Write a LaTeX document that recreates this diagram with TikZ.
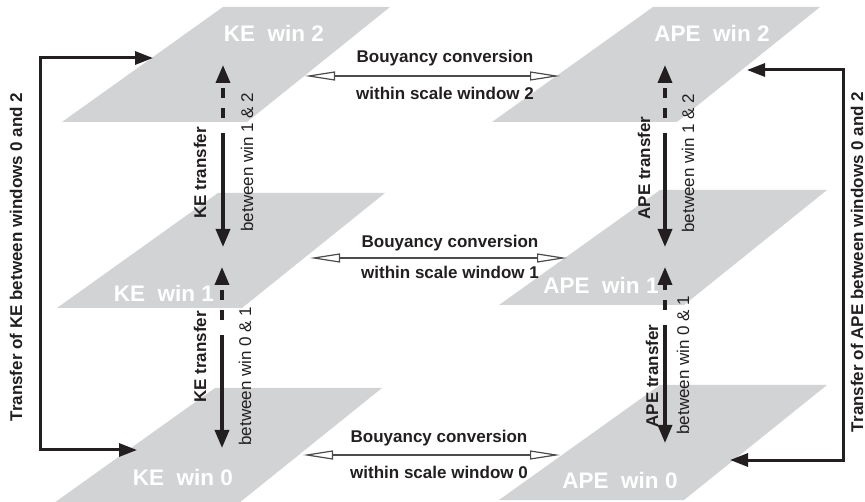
\documentclass[tikz,border=0pt]{standalone}
\usepackage{fontspec}
\setmainfont{Liberation Sans}
\usetikzlibrary{arrows.meta}
\definecolor{planegray}{RGB}{209,211,212}
\definecolor{inkblack}{RGB}{35,31,32}

\begin{document}
\begin{tikzpicture}[x=1pt,y=-1pt,
    plane/.style={fill=planegray},
    winlbl/.style={text=white,font=\fontsize{22.5}{24}\selectfont\bfseries},
    lbl/.style={text=inkblack,font=\fontsize{17}{19}\selectfont\bfseries},
    lblthin/.style={text=inkblack,font=\fontsize{17}{19}\selectfont},
    vflux/.style={line width=3.5pt,draw=inkblack,-{Triangle[length=18pt,width=14pt]}},
    hidden/.style={dash pattern=on 0pt off 15pt on 10pt off 10pt on 10pt off 10pt},
    link/.style={line width=3pt,draw=inkblack,{Triangle[length=18pt,width=13pt]}-{Triangle[length=18pt,width=13pt]}},
    buoy/.style={line width=1.2pt,draw=black!70,{Triangle[open,length=30pt,width=9pt,fill=white]}-{Triangle[open,length=30pt,width=9pt,fill=white]}}]
  \useasboundingbox (0,0) rectangle (865,502);
  % scale windows
  \foreach \dx/\dy in {0/0,-5/186,-8/381,430/0,437/183,437/378}
    \fill[plane,shift={(\dx,\dy)}] (223,7) -- (390,7) -- (247,122) -- (62,122) -- cycle;
  \node[winlbl] (ke2) at (274,33) {KE\ \ win 2};
  \node[winlbl] (ke1) at (164,293) {KE\ \ win 1};
  \node[winlbl] (ke0) at (183,477) {KE\ \ win 0};
  \node[winlbl] (ape2) at (712,33) {APE\ \ win 2};
  \node[winlbl] (ape1) at (601,285) {APE\ \ win 1};
  \node[winlbl] (ape0) at (620,480) {APE\ \ win 0};
  % transfers between windows
  \foreach \v/\x/\a/\m/\b in {k12/223/65/133/247,k01/222/267/335/448,a12/665/65/133/247,a01/665/267/325/443}{
    \coordinate (\v top) at (\x,\a);
    \coordinate (\v mid) at (\x,\m);
    \coordinate (\v bot) at (\x,\b);
    \draw[vflux] (\v mid) -- (\v bot);
    \draw[vflux,hidden] (\v mid) -- (\v top);
  }
  \node[lbl,rotate=90] (k12name) at (200,173) {KE transfer};
  \node[lblthin,rotate=90] (k12what) at (247,162) {between win 1 \& 2};
  \node[lbl,rotate=90] (k01name) at (200,357) {KE transfer};
  \node[lblthin,rotate=90] (k01what) at (245,376) {between win 0 \& 1};
  \node[lbl,rotate=90] (a12name) at (644,168) {APE transfer};
  \node[lblthin,rotate=90] (a12what) at (688,163) {between win 1 \& 2};
  \node[lbl,rotate=90] (a01name) at (652,376) {APE transfer};
  \node[lblthin,rotate=90] (a01what) at (683,365) {between win 0 \& 1};
  % bouyancy conversion
  \coordinate (b2l) at (305,76);  \coordinate (b2r) at (560,76);
  \coordinate (b1l) at (310,258); \coordinate (b1r) at (567,258);
  \coordinate (b0l) at (303,455); \coordinate (b0r) at (560,455);
  \draw[buoy] (b2l) -- (b2r);
  \draw[buoy] (b1l) -- (b1r);
  \draw[buoy] (b0l) -- (b0r);
  \node[lbl] (b2top) at (445,58) {Bouyancy conversion};
  \node[lbl] (b2bot) at (445,93) {within scale window 2};
  \node[lbl] (b1top) at (450,243) {Bouyancy conversion};
  \node[lbl] (b1bot) at (450,272) {within scale window 1};
  \node[lbl] (b0top) at (439,438) {Bouyancy conversion};
  \node[lbl] (b0bot) at (439,472) {within scale window 0};
  % transfer between windows 0 and 2
  \coordinate (ke2in) at (153,58);  \coordinate (ke0in) at (137,450);  \coordinate (kerail) at (40,250);
  \coordinate (ape2in) at (747,70); \coordinate (ape0in) at (730,460); \coordinate (aperail) at (843,250);
  \draw[link] (ke2in) -| (kerail) |- (ke0in);
  \draw[link] (ape2in) -| (aperail) |- (ape0in);
  \node[lbl,rotate=90] (kerailname) at (16,257) {Transfer of KE between windows 0 and 2};
  \node[lbl,rotate=90] (aperailname) at (857,262) {Transfer of APE between windows 0 and 2};
\end{tikzpicture}
\end{document}
